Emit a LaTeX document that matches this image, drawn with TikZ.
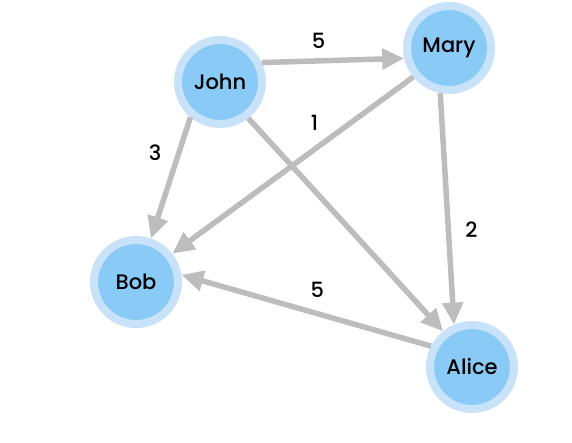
\documentclass[tikz,border=0pt]{standalone}
\usepackage{fontspec}
\setmainfont{Poppins}[UprightFont={* Medium}]
\usetikzlibrary{arrows.meta}
\definecolor{color_node_fill}{HTML}{89CAF6}
\definecolor{color_node_ring}{HTML}{C8E2F9}
\definecolor{color_edge}{HTML}{BDBDBD}

\begin{document}
\begin{tikzpicture}[x=1pt,y=-1pt,
		person/.style={circle,minimum size=84pt,inner sep=0pt,line width=8pt,
			draw=color_node_ring,fill=color_node_fill,font=\fontsize{21}{24}\selectfont},
		edge/.style={line width=5.5pt,color_edge,-{Triangle[length=22pt,width=20pt]}},
		weight/.style={black,font=\fontsize{21}{24}\selectfont}]
	\useasboundingbox (0, 0) rectangle (572, 442);
	% People
	\node[person] (john) at (220, 82) {John};
	\node[person] (mary) at (449, 48) {Mary};
	\node[person] (bob) at (136, 282) {Bob};
	\node[person] (alice) at (472, 367) {Alice};

	% Edges
	\draw[edge] (john.25) -- (mary.193)
		node[weight,pos=0.4,yshift=20pt] (w_john_mary) {5};
	\draw[edge] (john.230) -- (bob.71)
		node[weight,pos=0.29,xshift=-24pt] (w_john_bob) {3};
	\draw[edge] (mary.219) -- (bob.38)
		node[weight,pos=0.41,yshift=27pt] (w_mary_bob) {1};
	\draw[edge] (john.308) -- (alice.129);
	\draw[edge] (mary.259) -- (alice.113)
		node[weight,pos=0.59,xshift=23pt] (w_mary_alice) {2};
	\draw[edge] (alice.153) -- (bob.9)
		node[weight,pos=0.456,yshift=24pt] (w_alice_bob) {5};
\end{tikzpicture}
\end{document}
